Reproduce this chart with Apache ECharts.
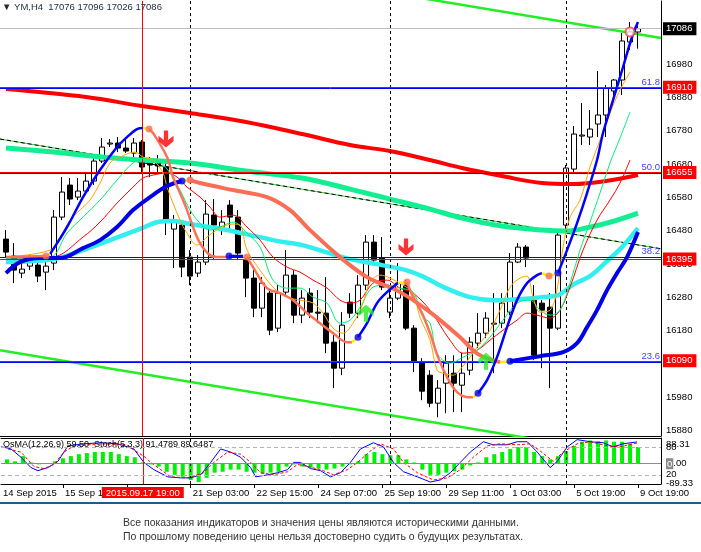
<!DOCTYPE html>
<html><head><meta charset="utf-8">
<script src="https://cdn.jsdelivr.net/npm/echarts@6/dist/echarts.min.js"></script>
<style>html,body{margin:0;padding:0;background:#fff}#c{width:701px;height:552px}</style>
</head><body><div id="c"></div>
<script>
// ---------- DATA ----------
// candles: [bar, open, close, low, high]
const candles = [
[0,16455,16416,16398,16482],[1,16404,16362,16323,16443],[2,16353,16365,16338,16386],[3,16374,16386,16362,16407],
[4,16377,16344,16326,16398],[5,16356,16374,16302,16401],[6,16383,16521,16362,16542],[7,16521,16596,16512,16641],
[8,16617,16575,16557,16638],[9,16581,16599,16572,16638],[10,16599,16629,16587,16656],[11,16629,16689,16617,16704],
[12,16689,16731,16683,16758],[13,16740,16743,16731,16755],[14,16743,16728,16716,16761],[15,16728,16719,16713,16755],
[16,16713,16743,16701,16758],[17,16746,16671,16656,16752],[18,16692,16677,16641,16701],[19,16686,16674,16656,16707],
[20,16671,16512,16467,16683],[21,16485,16506,16368,16527],[22,16497,16371,16341,16512],[23,16401,16344,16317,16422],
[24,16353,16386,16341,16407],[25,16386,16530,16377,16572],[26,16527,16497,16392,16575],[27,16491,16506,16467,16542],
[28,16557,16521,16482,16572],[29,16521,16413,16392,16542],[30,16392,16338,16281,16407],[31,16338,16248,16221,16362],
[32,16248,16323,16221,16341],[33,16293,16182,16167,16302],[34,16188,16293,16176,16317],[35,16296,16347,16287,16422],
[36,16347,16227,16203,16362],[37,16227,16278,16203,16302],[38,16293,16236,16218,16308],[39,16236,16233,16203,16302],
[40,16233,16143,16113,16341],[41,16146,16068,16008,16167],[42,16068,16197,16047,16236],[43,16266,16233,16218,16293],
[44,16233,16317,16218,16347],[45,16317,16446,16302,16467],[46,16446,16392,16377,16467],[47,16398,16311,16302,16461],
[48,16236,16278,16218,16317],[49,16278,16323,16272,16383],[50,16317,16188,16182,16332],[51,16188,16086,16056,16197],
[52,16086,15999,15972,16098],[53,16047,15963,15951,16062],[54,15963,16008,15921,16032],[55,16023,16083,15933,16107],
[56,16053,16023,15936,16107],[57,16017,16053,15936,16113],[58,16062,16146,16047,16161],[59,16143,16173,16128,16233],
[60,16173,16218,16158,16236],[61,16200,16203,16053,16293],[62,16203,16263,16188,16293],[63,16236,16386,16227,16413],
[64,16386,16431,16383,16443],[65,16431,16398,16371,16437],[66,16272,16107,16092,16317],[67,16263,16242,16068,16272],
[68,16251,16188,16008,16293],[69,16188,16467,16182,16476],[70,16497,16668,16482,16677],[71,16665,16770,16656,16794],
[72,16764,16767,16737,16863],[73,16761,16785,16737,16842],[74,16800,16827,16761,16959],[75,16827,16908,16761,16917],
[76,16899,16932,16881,16935],[77,16932,17049,16887,17073],[78,17046,17076,17022,17106],[79,17076,17086,17026,17096]
];
const priceTicks = [15880,15980,16080,16180,16280,16380,16480,16580,16680,16780,16880,16980];
const levelPrices = [16910,16655,16395,16090];
const fibPcts = [61.8,50.0,38.2,23.6];
const fibLow = 15580, fibHigh = 17727;
const bidPrice = 17086;
const crossBar = 17, crossLabel = '2015.09.17 19:00';
const sepBars = [23,48,70];
const timeTickBars = [7,15,23,31,39,47,55,63,71,79];
const timeLabelBars = [-0.75,7,23,31,39,47,55,63,71,79];
const timeLabels = ['14 Sep 2015','15 Sep 19:00','21 Sep 03:00','22 Sep 15:00','24 Sep 07:00','25 Sep 19:00','29 Sep 11:00','1 Oct 03:00','5 Oct 19:00','9 Oct 19:00'];

const channelUpper = [[-0.75,17388],[81.875,17058]];
const channelLower = [[-0.75,16122],[81.875,15792]];
const trendLine = [[-0.75,16755],[81.875,16426]];

const maSlowRed = [[0,16905],[10,16881],[17,16854],[23,16833],[30,16806],[37,16770],[43,16737],[48,16719],[53,16692],[57,16668],[62,16644],[67,16623],[71,16620],[75,16629],[79,16647]];
const maSlowGreen = [[0,16728],[6,16716],[12,16701],[17,16692],[23,16683],[30,16659],[37,16638],[43,16605],[48,16575],[53,16545],[57,16518],[62,16494],[67,16482],[70,16479],[73,16491],[76,16509],[79,16533]];
const maCyan = [[0,16386],[6,16395],[10,16425],[12,16443],[14,16461],[17,16488],[19,16506],[21,16509],[23,16500],[27,16485],[30,16470],[34,16449],[37,16437],[40,16416],[43,16395],[47,16377],[50,16362],[52,16344],[55,16308],[58,16281],[61,16272],[64,16275],[67,16281],[69,16287],[71,16320],[73,16344],[75,16386],[77,16431],[79,16488]];
const maOrange = [[0,16401],[5.5,16422],[6.75,16461],[8,16512],[9.25,16542],[10.5,16572],[11.75,16623],[13,16683],[14.25,16701],[16.13,16716],[17.13,16701],[18.38,16692],[19.63,16653],[20.13,16611],[20.88,16563],[21.75,16512],[22.63,16473],[23.88,16437],[25.13,16461],[26.75,16488],[28.38,16500],[29.25,16497],[30.13,16422],[31.75,16362],[33.38,16311],[35.13,16281],[36.75,16272],[38.38,16263],[39.63,16233],[40.88,16188],[42.13,16173],[43.38,16203],[44.63,16263],[45.5,16326],[46.75,16347],[48,16338],[49.63,16317],[50.88,16293],[51.75,16221],[53,16152],[53.88,16062],[54.63,16053],[55.88,16047],[57,16071],[58,16101],[59.25,16143],[60.5,16182],[61.75,16242],[63,16311],[64.25,16338],[65.13,16344],[65.88,16281],[66.75,16236],[68,16242],[68.88,16302],[69.63,16431],[70.5,16521],[71.75,16572],[73,16671],[74.25,16752],[75.5,16833],[76.75,16902],[78,16956]];
const maSpring = [[0,16398],[5.5,16401],[7.63,16473],[9.63,16521],[11.75,16572],[13.88,16632],[15.88,16683],[17.63,16698],[19.25,16686],[20.5,16653],[21.75,16602],[23,16542],[24.25,16503],[25.5,16482],[26.75,16491],[28.38,16506],[30.13,16473],[31.75,16431],[33.38,16332],[35.13,16308],[36.75,16308],[38.38,16281],[40.13,16263],[41.75,16203],[43,16212],[44.25,16251],[45.88,16311],[47.63,16317],[49.25,16308],[50.88,16296],[52.13,16221],[53,16203],[53.88,16113],[55.5,16083],[57.13,16101],[58.88,16122],[60.5,16161],[62.13,16212],[63.88,16263],[65.5,16272],[66.75,16242],[68,16227],[69.25,16242],[70.5,16323],[71.75,16422],[73,16506],[74.25,16593],[75.5,16683],[76.75,16758],[78,16836]];
const maRedThin = [[0,16395],[5.88,16401],[9.63,16461],[11.75,16506],[13.88,16563],[15.88,16611],[17.13,16638],[18.38,16647],[20.13,16653],[21.38,16641],[22.63,16611],[24.25,16581],[25.5,16551],[26.75,16521],[28.38,16527],[30.13,16491],[31.75,16452],[33.38,16401],[35.13,16371],[36.75,16356],[38.38,16332],[40.13,16308],[41.75,16272],[43,16263],[44.25,16272],[45.88,16323],[47.63,16332],[49.25,16308],[50.88,16293],[53,16242],[55.5,16152],[57.13,16113],[58.88,16122],[60.5,16152],[62.13,16182],[63.88,16212],[65.13,16233],[66.38,16227],[68,16218],[69.25,16242],[70.5,16311],[72.13,16422],[73.88,16512],[75.5,16572],[76.75,16623],[78,16692]];

// colour-switching trend lines (A = fast, B = slow)
const lineABlue = [
[[5.5,16410],[7.63,16491],[9.63,16581],[11.75,16662],[13.88,16731],[15.13,16761],[16.38,16785],[17.13,16788]],
[[27.88,16404],[29.63,16404]],
[[44,16161],[45.13,16203],[46.38,16263],[47.63,16296],[49,16323]],
[[59,15993],[60.13,16032],[61.38,16101],[62.63,16191],[63.88,16272],[65.13,16323],[66.38,16347],[67,16353]],
[[69,16353],[70.13,16422],[71.38,16503],[72.63,16593],[73.88,16692],[74.63,16773],[75.88,16872],[77.13,16971],[78.25,17061],[79,17106]]
];
const lineASalmon = [
[[0,16401],[5,16404]],
[[17.88,16785],[18.38,16773],[20.13,16701],[20.88,16641],[21.75,16593],[22.63,16542],[23.38,16491],[24.25,16443],[25.5,16407],[26.75,16401],[27.88,16401]],
[[30.13,16401],[30.88,16371],[32.63,16308],[34.25,16293],[35.88,16272],[37.63,16233],[39.25,16203],[40.88,16173],[42.63,16146],[43.25,16146]],
[[50.13,16326],[50.88,16281],[52,16233],[53,16173],[54,16101],[55.13,16041],[56.38,15996],[57.75,15981],[58.38,15981]]
];
const lineBBlue = [
[[0,16353],[1.75,16386],[4.25,16398],[6.75,16398],[9.63,16428],[11.75,16452],[13.88,16491],[15.88,16542],[18,16581],[20.13,16614],[22,16629]],
[[63,16089],[66.75,16104],[69.63,16116],[71.38,16143],[72.63,16191],[73.88,16242],[75.13,16302],[76.38,16353],[77.63,16401],[79,16476]]
];
const lineBSalmon = [
[[23,16632],[24.25,16623],[28.38,16602],[32.63,16581],[35.5,16542],[38,16482],[41.75,16401],[45.13,16341],[49.25,16296],[53,16236],[56.75,16161],[59,16110],[61.75,16086]]
];
const yellowLinks = [
[[5,16404],[5.5,16410]],[[17.13,16788],[17.88,16785]],[[29.63,16404],[30.13,16401]],[[43.25,16146],[44,16161]],
[[49,16323],[50.13,16326]],[[58.38,15981],[59,15993]],[[67,16353],[67.88,16344]],[[67.88,16344],[69,16353]],
[[22,16629],[23,16632]],[[61.75,16086],[63,16089]]
];
const dotsBlue = [[27.88,16404],[44,16161],[59,15993],[69,16353],[22,16629],[63,16089]];
const dotsSalmon = [[5,16404],[17.88,16785],[30.13,16401],[50.13,16326],[67.88,16344],[23,16632]];
const arrowsDown = [[20,16755],[50,16431]];
const arrowsUp = [[45,16233],[60,16089]];
const lastMark = [[78,17076]];

// sub window
const osma = [20,11,35,6,-3,2,11,25,35,44,49,54,54,54,44,35,30,6,-3,-13,-37,-51,-60,-75,-84,-65,-41,-37,-27,-27,-37,-41,-46,-41,-37,-13,-3,-13,-18,-22,-27,-22,-13,-3,12,44,54,44,39,39,20,6,-27,-51,-51,-41,-35,-27,-8,6,30,44,54,68,77,77,54,35,20,35,58,82,101,107,103,107,101,101,92,77];
const stochMain = [[-0.75,80.7],[0,78.4],[0.5,76.2],[1.75,58.2],[3,35.7],[3.88,29],[5.13,35.7],[6.38,49.2],[7.63,82.9],[9.63,87.4],[11.75,89.7],[13.88,87.4],[15.88,76.2],[17.13,47],[18.38,31.2],[20.13,15.5],[21.75,13.3],[23,13.3],[24.25,20],[25.5,47],[26.75,76.2],[28,69.4],[29.25,58.2],[30.5,35.7],[31.13,15.5],[32.63,20],[33.88,24.5],[35.13,31.2],[35.88,47],[36.75,47],[38,33.5],[39.25,29],[40.5,15.5],[41.75,24.5],[43,47],[44.25,76.2],[45.88,89.7],[47.13,80.7],[48.38,47],[49.63,26.7],[51.38,15.5],[53,4.3],[54.25,8.8],[55.5,24.5],[56.75,47],[58,69.4],[59.63,91.9],[60.88,85.2],[62.63,85.2],[63.88,91.9],[65.13,91.9],[66.38,69.4],[68,35.7],[68.88,49.2],[70.13,80.7],[71.38,96.4],[73,91.9],[74.63,89.7],[75.88,80.7],[77.13,87.4],[78.88,91.5]];
const stochSignal = [[0.13,76.2],[1.75,69.4],[3.38,38],[4.63,33.5],[5.88,42.5],[7.13,69.4],[8.38,82.9],[11.75,87.4],[14.88,85.2],[17.13,60.4],[18,47],[19.25,31.2],[20.5,15.5],[22.63,13.3],[24.63,24.5],[25.88,47],[27.63,69.4],[29.25,64.9],[30.5,47],[31.75,24.5],[33.38,20],[35.13,26.7],[36.38,42.5],[37.63,38],[39.25,31.2],[40.88,20],[42.63,31.2],[43.88,47],[45.5,71.7],[46.75,87.4],[48.38,76.2],[49.63,47],[51.38,24.5],[53.38,8.8],[55.13,13.3],[56.75,31.2],[58.38,58.2],[60.13,82.9],[61.75,87.4],[63.88,85.2],[65.5,87.4],[66.75,71.7],[68.38,49.2],[69.63,69.4],[71.38,87.4],[73,91.9],[75.13,82.9],[76.75,80.7],[78.38,87.4],[79,89.6]];
const stochLevels = [80,20];
const osmaLabels = [88.31,0,-89.33];
const legendSub = 'OsMA(12,26,9) 59.50  Stoch(5,3,3) 91.4789 89.6487';
const disclaimer = ['Все показания индикаторов и значения цены являются историческими данными.','По прошлому поведению цены нельзя достоверно судить о будущих результатах.'];

// ---------- CHART ----------
const FONT = 'Liberation Sans';
const last = candles[candles.length-1];
const headText = '▼ YM,H4  ' + [last[1], last[4], last[3], last[2]].join(' ');
const fibPrice = p => fibLow + (fibHigh - fibLow) * p / 100;

function ln(data, color, width, z, extra) {
  return Object.assign({type:'line', xAxisIndex:0, yAxisIndex:0, data, symbol:'none', showSymbol:false,
    smooth:0.35, silent:true, z:z, lineStyle:{color, width}}, extra || {});
}
const series = [];
series.push(ln(channelUpper, '#22ee22', 2.5, 2, {smooth:false}));
series.push(ln(channelLower, '#22ee22', 2.5, 2, {smooth:false}));
series.push(ln(trendLine, '#33cc33', 1, 2, {smooth:false}));
series.push(ln(trendLine, '#000', 1, 2, {smooth:false, lineStyle:{color:'#000', width:1, type:[4,3]}}));

const mlData = [];
mlData.push({yAxis: bidPrice, lineStyle:{color:'#c0c0c0', width:1, type:'solid'},
  label:{show:true, position:'end', distance:2, formatter:String(bidPrice), color:'#fff', backgroundColor:'#000', padding:[2,4,1,3], fontSize:9.5, fontFamily:FONT}});
fibPcts.forEach(p => mlData.push({yAxis: fibPrice(p), lineStyle:{color:'#0000ff', width:1, type:'solid'},
  label:{show:true, position:'insideEndTop', distance:1, formatter:p.toFixed(1), color:'#4040ff', fontSize:9.5, fontFamily:FONT}}));
levelPrices.forEach(v => mlData.push({yAxis: v, lineStyle:{color:'#ff0000', width:1, type:'solid'},
  label:{show:true, position:'end', distance:2, formatter:String(v), color:'#fff', backgroundColor:'#ff0000', padding:[2,4,1,3], fontSize:9.5, fontFamily:FONT}}));
sepBars.forEach(b => mlData.push({xAxis: b, lineStyle:{color:'#000', width:1, type:[3,3]}}));
mlData.push({xAxis: crossBar, lineStyle:{color:'#ff0000', width:1, type:'solid'}});

series.push({type:'candlestick', xAxisIndex:0, yAxisIndex:0, data:candles, encode:{x:0, y:[1,2,3,4]},
  barWidth:5, z:3, silent:true,
  itemStyle:{color:'#fff', color0:'#000', borderColor:'#000', borderColor0:'#000', borderWidth:1},
  markLine:{silent:true, symbol:['none','none'], animation:false, label:{show:false}, data:mlData}});

series.push(ln(maSlowRed, '#ff0000', 4, 4));
series.push(ln(maSlowGreen, '#12ee92', 5, 4));
series.push(ln(maCyan, '#33eeee', 4.5, 4));
series.push(ln(maRedThin, '#ff0000', 1, 5));
series.push(ln(maSpring, '#00ee77', 1, 5));
series.push(ln(maOrange, '#ffa500', 1, 5));
lineBSalmon.forEach(s => series.push(ln(s, '#fa6e55', 4, 6)));
lineBBlue.forEach(s => series.push(ln(s, '#0000e6', 4, 6)));
lineASalmon.forEach(s => series.push(ln(s, '#fa7358', 2.5, 7)));
lineABlue.forEach(s => series.push(ln(s, '#0000ff', 2.5, 7)));
yellowLinks.forEach(s => series.push(ln(s, '#ffee00', 2.5, 7, {smooth:false})));
series.push({type:'scatter', xAxisIndex:0, yAxisIndex:0, data:dotsSalmon, symbol:'circle', symbolSize:7, itemStyle:{color:'#fa6e55'}, z:8, silent:true});
series.push({type:'scatter', xAxisIndex:0, yAxisIndex:0, data:dotsBlue, symbol:'circle', symbolSize:7, itemStyle:{color:'#0000ee'}, z:8, silent:true});
series.push({type:'scatter', xAxisIndex:0, yAxisIndex:0, data:arrowsDown, symbol:'path://M6,0 L10,0 L10,9 L15,5 L15,10 L8,16 L1,10 L1,5 L6,9 Z', symbolSize:[15,17], itemStyle:{color:'#ff0000'}, z:9, silent:true});
series.push({type:'scatter', xAxisIndex:0, yAxisIndex:0, data:arrowsUp, symbol:'path://M6,16 L10,16 L10,7 L15,11 L15,6 L8,0 L1,6 L1,11 L6,7 Z', symbolSize:[15,17], itemStyle:{color:'#22ee22'}, z:9, silent:true});
series.push({type:'scatter', xAxisIndex:0, yAxisIndex:0, data:lastMark, symbol:'emptyCircle', symbolSize:9, itemStyle:{color:'#ff4040', borderWidth:1}, z:9, silent:true});

const subML = sepBars.map(b => ({xAxis:b, lineStyle:{color:'#000', width:1, type:[3,3]}}));
subML.push({yAxis:0, lineStyle:{color:'#8c8c8c', width:1, type:'solid'}});
subML.push({xAxis:crossBar, lineStyle:{color:'#ff0000', width:1, type:'solid'},
  label:{show:true, position:'start', distance:3, formatter:crossLabel, color:'#fff', backgroundColor:'#ff0000', padding:[1,4,0,4], fontSize:9.5, fontFamily:FONT}});
series.push({type:'bar', xAxisIndex:1, yAxisIndex:2, data:osma.map((v,i)=>[i,v]), barWidth:4, itemStyle:{color:'#00f000'}, z:2, silent:true,
  markLine:{silent:true, symbol:['none','none'], animation:false, label:{show:false}, data:subML}});
series.push({type:'line', xAxisIndex:1, yAxisIndex:1, data:stochMain, symbol:'none', lineStyle:{color:'#0000ff', width:1}, z:4, silent:true,
  markLine:{silent:true, symbol:['none','none'], animation:false, label:{show:false},
    data: stochLevels.map(v => ({yAxis:v, lineStyle:{color:'#b4b4b4', width:1, type:[4,3]}}))}});
series.push({type:'line', xAxisIndex:1, yAxisIndex:1, data:stochSignal, symbol:'none', lineStyle:{color:'#ff0000', width:1, type:[3,2]}, z:4, silent:true});

const xBase = {type:'value', min:-0.75, max:81.875, splitLine:{show:false}};
const plain = v => String(v);
const option = {
  animation:false,
  backgroundColor:'#fff',
  textStyle:{fontFamily:FONT},
  title:[
    {text:headText, left:2, top:2, padding:0, textStyle:{fontSize:9.5, fontWeight:'normal', color:'#1c2c3c', fontFamily:FONT}},
    {text:legendSub, left:3, top:440, padding:0, textStyle:{fontSize:9, fontWeight:'normal', color:'#000', fontFamily:FONT}},
    {text:disclaimer.join('\n'), left:123, top:516, padding:0, textStyle:{fontSize:10.5, lineHeight:14, fontWeight:'normal', color:'#333', fontFamily:FONT}}
  ],
  graphic:[{type:'rect', shape:{x:0, y:502, width:701, height:2}, style:{fill:'#1e5c8c'}, silent:true}],
  grid:[
    {left:0, right:40, top:1, height:435},
    {left:0, right:40, top:438, height:46}
  ],
  xAxis:[
    Object.assign({}, xBase, {gridIndex:0, axisLine:{show:true, onZero:false, lineStyle:{color:'#000'}}, axisTick:{show:false}, axisLabel:{show:false}}),
    Object.assign({}, xBase, {gridIndex:1, position:'bottom', axisLine:{show:true, onZero:false, lineStyle:{color:'#000'}},
      axisTick:{show:true, customValues:timeTickBars, length:4, lineStyle:{color:'#000'}},
      axisLabel:{show:true, customValues:timeLabelBars, align:'left', margin:4, padding:[0,0,0,2], fontSize:9.5, color:'#000', fontFamily:FONT,
        formatter: v => { const i = timeLabelBars.findIndex(b => Math.abs(b - v) < 1e-6); return i >= 0 ? timeLabels[i] : ''; }}}),
    Object.assign({}, xBase, {gridIndex:1, position:'top', axisLine:{show:true, onZero:false, lineStyle:{color:'#000'}}, axisTick:{show:false}, axisLabel:{show:false}})
  ],
  yAxis:[
    {type:'value', gridIndex:0, position:'right', min:15864.6, max:17168.9, splitLine:{show:false},
      axisLine:{show:true, onZero:false, lineStyle:{color:'#000'}}, axisTick:{show:false},
      axisLabel:{customValues:priceTicks, margin:5, fontSize:9.5, color:'#000', fontFamily:FONT, formatter:plain}},
    {type:'value', gridIndex:1, position:'right', min:0, max:100, splitLine:{show:false},
      axisLine:{show:true, onZero:false, lineStyle:{color:'#000'}}, axisTick:{show:false},
      axisLabel:{customValues:stochLevels, margin:5, fontSize:9.5, color:'#000', fontFamily:FONT, formatter:plain}},
    {type:'value', gridIndex:1, position:'right', min:-93.1, max:118.2, splitLine:{show:false},
      axisLine:{show:false, onZero:false}, axisTick:{show:false},
      axisLabel:{customValues:osmaLabels, margin:5, fontSize:9.5, color:'#000', fontFamily:FONT,
        formatter: v => v === 0 ? '{z|0}.00' : v.toFixed(2),
        rich:{z:{backgroundColor:'#8a8a8a', color:'#fff', fontSize:9.5, padding:[1,1,0,1]}}}}
  ],
  series
};
const chart = echarts.init(document.getElementById('c'), null, {renderer:'canvas'});
chart.setOption(option);
</script>
</body></html>
